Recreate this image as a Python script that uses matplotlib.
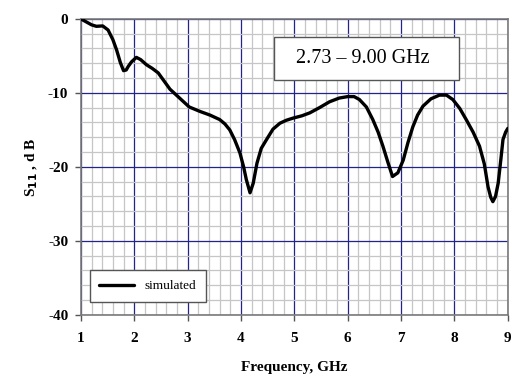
import matplotlib
matplotlib.use('Agg')
import matplotlib.pyplot as plt
from matplotlib.ticker import MultipleLocator
from matplotlib.patches import Rectangle

plt.rcParams['axes.unicode_minus'] = False

# S11 values
freq = [1.00, 1.10, 1.20, 1.29, 1.41, 1.51, 1.60, 1.67, 1.74, 1.80, 1.85, 1.89, 1.95,
        2.04, 2.12, 2.23, 2.34, 2.45, 2.56, 2.67, 2.85, 3.03, 3.23, 3.42, 3.60, 3.70,
        3.79, 3.88, 3.98, 4.05, 4.10, 4.17, 4.23, 4.30, 4.38, 4.48, 4.60, 4.73, 4.85,
        4.98, 5.14, 5.29, 5.47, 5.66, 5.84, 6.00, 6.12, 6.22, 6.35, 6.47, 6.57, 6.66,
        6.75, 6.84, 6.94, 7.04, 7.13, 7.22, 7.31, 7.41, 7.56, 7.72, 7.85, 7.97, 8.10,
        8.22, 8.35, 8.47, 8.56, 8.63, 8.68, 8.72, 8.77, 8.82, 8.87, 8.91, 8.96, 9.00]
s11 = [0.0, -0.4, -0.8, -1.0, -0.95, -1.5, -2.8, -4.2, -5.9, -7.0, -6.9, -6.4, -5.8,
       -5.2, -5.5, -6.2, -6.7, -7.3, -8.4, -9.5, -10.7, -11.9, -12.5, -13.0, -13.6, -14.2,
       -15.0, -16.3, -18.1, -20.0, -21.7, -23.5, -22.2, -19.5, -17.5, -16.3, -14.9, -14.1, -13.7,
       -13.4, -13.1, -12.7, -12.0, -11.2, -10.7, -10.5, -10.5, -10.9, -11.9, -13.6, -15.3, -17.2,
       -19.3, -21.3, -20.8, -19.1, -16.7, -14.6, -13.0, -11.8, -10.8, -10.3, -10.3, -10.9, -12.1,
       -13.6, -15.3, -17.2, -19.6, -22.7, -24.1, -24.7, -24.0, -22.2, -19.0, -16.3, -15.3, -14.8]

band_text = '2.73 \u2013 9.00 GHz'
legend_label = 'simulated'

serif = ['Liberation Serif', 'DejaVu Serif']

fig = plt.figure(figsize=(5.15, 3.78), dpi=100)
ax = fig.add_axes([0.157, 0.167, 0.829, 0.783])

ax.plot(freq, s11, color='black', lw=2.4, label=legend_label, zorder=5,
        solid_joinstyle='round', solid_capstyle='round')

ax.set_xlim(1, 9)
ax.set_ylim(-40, 0)
ax.xaxis.set_major_locator(MultipleLocator(1))
ax.xaxis.set_minor_locator(MultipleLocator(0.2))
ax.yaxis.set_major_locator(MultipleLocator(10))
ax.yaxis.set_minor_locator(MultipleLocator(2))

ax.grid(which='minor', color='#c6c6c6', lw=0.9)
ax.grid(which='major', color='#23238c', lw=0.9)
ax.set_axisbelow(True)

for s in ax.spines.values():
    s.set_color('#7a7a7a')
    s.set_linewidth(1.2)

ax.tick_params(which='major', direction='out', length=4, color='#555555', width=1,
               labelsize=11)
ax.tick_params(axis='x', pad=8)
ax.tick_params(axis='y', pad=5)
ax.tick_params(which='minor', length=0)
for lab in ax.get_xticklabels() + ax.get_yticklabels():
    lab.set_fontfamily(serif)
    lab.set_fontweight('bold')

ax.set_xlabel('Frequency, GHz', fontfamily=serif, fontweight='bold', fontsize=11,
              labelpad=12)
ax.set_ylabel(r'S$_{\mathbf{11}}$ , d B', fontfamily=serif, fontweight='bold', fontsize=11,
              labelpad=6)

# annotation box with the band
ax.add_patch(Rectangle((0.452, 0.794), 0.433, 0.145, transform=ax.transAxes,
                       fc='white', ec='#555555', lw=1, zorder=6))
ax.text(0.661, 0.866, band_text, transform=ax.transAxes, fontfamily=serif, fontsize=14.5,
        ha='center', va='center', zorder=7)

leg = ax.legend(loc='lower left', bbox_to_anchor=(0.005, 0.02), fancybox=False,
                edgecolor='#555555', framealpha=1, handlelength=2.6,
                prop={'family': serif, 'size': 9.5}, borderpad=0.75)
leg.get_frame().set_linewidth(1)

fig.savefig('out.png', dpi=100)
